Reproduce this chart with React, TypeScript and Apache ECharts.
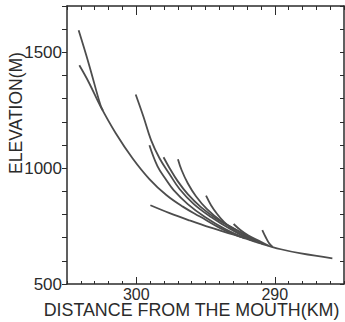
import React, { useEffect, useRef } from "react";
import * as echarts from "echarts";

// distance from the mouth (km), elevation (m)
const mainProfile: number[][] = [[304.11,1444],[303.43,1371],[302.58,1267],[301.48,1151],[300.27,1043],[299.05,953],[297.83,884],[296.64,834],[295.40,791],[293.94,741],[292.48,704],[291.02,675],[289.56,650],[288.10,632],[285.84,611]];
const steepHead: number[][] = [[304.16,1595],[303.43,1451],[302.58,1271],[302.40,1248]];
const branchC: number[][] = [[300.04,1318],[299.49,1224],[298.93,1121],[298.32,1043],[297.59,974],[296.86,909],[295.84,845],[294.60,789],[293.21,737],[291.75,690]];
const branchD: number[][] = [[299.05,1099],[298.47,1009],[297.88,953],[297.30,905],[296.28,845],[295.04,789],[293.58,737],[292.12,697]];
const branchE: number[][] = [[298.03,1047],[297.59,1000],[297.01,944],[296.28,888],[295.33,832],[294.16,780],[292.77,733],[291.39,683]];
const branchF: number[][] = [[296.99,1039],[296.72,991],[296.28,935],[295.69,879],[294.89,823],[293.87,772],[292.48,724],[290.88,673]];
const branchG: number[][] = [[298.98,840],[297.59,806],[296.13,774],[294.67,744],[293.36,720],[292.12,697]];
const branchH: number[][] = [[294.96,881],[294.60,840],[294.16,802],[293.65,767],[293.07,737],[292.34,711],[291.46,684]];
const branchI: number[][] = [[292.97,759],[292.48,733],[291.90,709],[291.17,687],[290.44,665]];
const branchJ: number[][] = [[290.90,733],[290.66,703],[290.42,677],[290.15,660]];

const xLabelValues = [300, 290];
const yLabelValues = [500, 1000, 1500];
const xTitle = "DISTANCE FROM THE MOUTH(KM)";
const yTitle = "ELEVATION(M)";

const allCurves = [mainProfile, steepHead, branchC, branchD, branchE, branchF, branchG, branchH, branchI, branchJ];

const AXIS = "#2b2b2b";
const LINE = "#4d4d4d";
const FONT = "Liberation Sans";

export default function App() {
  const ref = useRef<HTMLDivElement>(null);
  useEffect(() => {
    if (!ref.current) return;
    const chart = echarts.init(ref.current, undefined, { renderer: "svg" });
    const xBase = {
      type: "value",
      min: 285,
      max: 305,
      inverse: true,
      splitLine: { show: false },
    };
    const yBase = {
      type: "value",
      min: 500,
      max: 1700,
      splitLine: { show: false },
    };
    chart.setOption({
      animation: false,
      grid: { left: 67, right: 1, top: 6, bottom: 38, outerBoundsMode: "none" },
      xAxis: [
        {
          ...xBase,
          position: "bottom",
          interval: 1,
          axisLine: { show: true, lineStyle: { color: AXIS, width: 1.5 } },
          axisTick: { show: true, inside: true, length: 3, lineStyle: { color: AXIS } },
          axisLabel: {
            customValues: xLabelValues,
            formatter: (v: number) => (xLabelValues.includes(v) ? String(v) : ""),
            fontSize: 16,
            margin: 2,
            color: AXIS,
            fontFamily: FONT,
          },
        },
        {
          ...xBase,
          position: "bottom",
          axisLine: { show: false },
          axisTick: { show: true, inside: true, length: 7, customValues: xLabelValues, lineStyle: { color: AXIS } },
          axisLabel: { show: false },
        },
        {
          ...xBase,
          position: "top",
          interval: 1,
          axisLine: { show: true, lineStyle: { color: AXIS, width: 1.5 } },
          axisTick: { show: true, inside: true, length: 4, lineStyle: { color: AXIS } },
          axisLabel: { show: false },
        },
        {
          ...xBase,
          position: "top",
          axisLine: { show: false },
          axisTick: { show: true, inside: true, length: 9, customValues: xLabelValues, lineStyle: { color: AXIS } },
          axisLabel: { show: false },
        },
      ],
      yAxis: [
        {
          ...yBase,
          position: "left",
          interval: 100,
          axisLine: { show: true, lineStyle: { color: AXIS, width: 1.5 } },
          axisTick: { show: true, inside: false, length: 5, lineStyle: { color: AXIS } },
          axisLabel: {
            formatter: (v: number) => (yLabelValues.includes(v) ? String(v) : ""),
            fontSize: 17,
            margin: 5,
            color: AXIS,
            fontFamily: FONT,
          },
        },
        {
          ...yBase,
          position: "right",
          interval: 100,
          axisLine: { show: true, lineStyle: { color: AXIS, width: 1.5 } },
          axisTick: { show: true, inside: true, length: 4, lineStyle: { color: AXIS } },
          axisLabel: { show: false },
        },
      ],
      graphic: [
        {
          type: "text",
          x: 191.5,
          y: 309,
          scaleX: 0.94,
          style: {
            text: xTitle,
            align: "center",
            verticalAlign: "middle",
            fontSize: 19,
            fontFamily: FONT,
            fill: AXIS,
          },
        },
        {
          type: "text",
          x: 16,
          y: 113,
          rotation: Math.PI / 2,
          style: {
            text: yTitle,
            align: "center",
            verticalAlign: "middle",
            fontSize: 17.5,
            fontFamily: FONT,
            fill: AXIS,
          },
        },
      ],
      series: allCurves.map((d) => ({
        type: "line",
        xAxisIndex: 0,
        yAxisIndex: 0,
        data: d,
        smooth: 0.4,
        showSymbol: false,
        symbol: "none",
        lineStyle: { color: LINE, width: 1.8 },
        silent: true,
      })),
    });
    return () => chart.dispose();
  }, []);
  return (
    <div
      ref={ref}
      style={{ position: "fixed", left: 0, top: 0, width: 345, height: 322, background: "#fff" }}
    />
  );
}
